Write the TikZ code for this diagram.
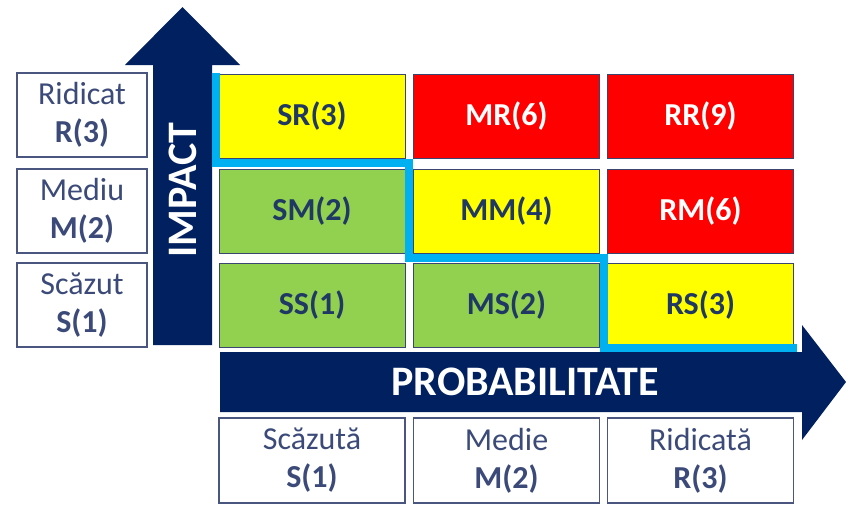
\documentclass[tikz,border=0pt]{standalone}
\usepackage{fontspec}
\setmainfont{Carlito}
\definecolor{navy}{HTML}{002060}
\definecolor{txtnavy}{HTML}{1F3864}
\definecolor{lbltext}{HTML}{3B4A78}
\definecolor{lblborder}{HTML}{4A5680}
\definecolor{cyanline}{HTML}{00B0F0}
\definecolor{lowgreen}{HTML}{92D050}
\definecolor{midyellow}{HTML}{FFFF00}
\definecolor{highred}{HTML}{FF0000}
\definecolor{celledge}{HTML}{3A4670}
\tikzset{
  cell/.style={draw=celledge, line width=1pt, minimum width=186pt, minimum height=84pt,
    inner sep=0pt, font=\fontsize{32}{36}\selectfont\bfseries, text=txtnavy},
  lowcell/.style={cell, fill=lowgreen},
  midcell/.style={cell, fill=midyellow},
  highcell/.style={cell, fill=highred, text=white},
  lblbox/.style={draw=lblborder, line width=1.5pt, fill=white, inner sep=0pt, align=center,
    font=\fontsize{32}{38}\selectfont, text=lbltext},
  axisarrow/.style={fill=navy, draw=none},
  axistext/.style={text=white, font=\fontsize{42}{46}\selectfont\bfseries, inner sep=0pt},
  boundary/.style={draw=cyanline, line width=8pt, miter limit=10}
}
\begin{document}
\begin{tikzpicture}[x=1pt,y=-1pt]
\path[use as bounding box] (0,0) rectangle (846,506);
% impact arrow
\fill[axisarrow] (153,345) -- (153,65) -- (125,65) -- (182.5,7) -- (240,65) -- (212,65) -- (212,345) -- cycle;
\node[axistext, rotate=90] (impact) at (182.5,190) {IMPACT};
% probability arrow
\fill[axisarrow] (220,352) -- (802,352) -- (802,325) -- (846,382) -- (802,440) -- (802,412) -- (220,412) -- cycle;
\node[axistext] (prob) at (525,382) {PROBABILITATE};
% grid cells
\node[midcell]  (SR) at (312,116) {SR(3)};
\node[highcell] (MR) at (506.5,116) {MR(6)};
\node[highcell] (RR) at (700.5,116) {RR(9)};
\node[lowcell]  (SM) at (312,211) {SM(2)};
\node[midcell]  (MM) at (506.5,211) {MM(4)};
\node[highcell] (RM) at (700.5,211) {RM(6)};
\node[lowcell]  (SS) at (312,305) {SS(1)};
\node[lowcell]  (MS) at (506.5,305) {MS(2)};
\node[midcell]  (RS) at (700.5,305) {RS(3)};
% boundary line
\draw[boundary] (216,73) -- (216,163) -- (409,163) -- (409,258) -- (604,258) -- (604,348) -- (797,348);
% impact labels
\node[lblbox, minimum width=130pt, minimum height=84pt] (IR) at (82,115) {Ridicat\\\textbf{R(3)}};
\node[lblbox, minimum width=130pt, minimum height=84pt] (IM) at (82,211) {Mediu\\\textbf{M(2)}};
\node[lblbox, minimum width=130pt, minimum height=84pt] (IS) at (82,305) {Scăzut\\\textbf{S(1)}};
% probability labels
\node[lblbox, minimum width=186pt, minimum height=85pt] (PS) at (312,460.5) {Scăzută\\\textbf{S(1)}};
\node[lblbox, minimum width=186pt, minimum height=85pt] (PM) at (506.5,460.5) {Medie\\\textbf{M(2)}};
\node[lblbox, minimum width=186pt, minimum height=85pt] (PR) at (700.5,460.5) {Ridicată\\\textbf{R(3)}};
\end{tikzpicture}
\end{document}
